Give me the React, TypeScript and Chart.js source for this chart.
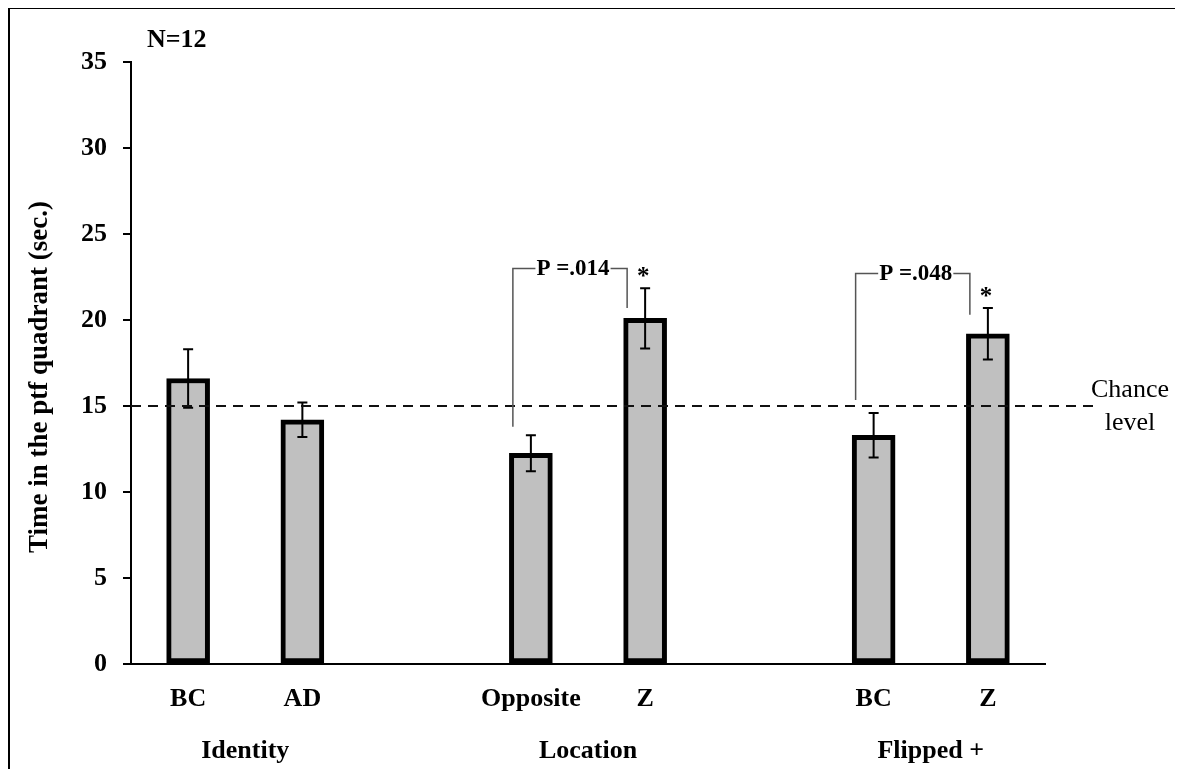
import React, { useEffect, useRef } from 'react';
import { Chart, registerables } from 'chart.js';

Chart.register(...registerables);

// ---- data ----
const categories = ['BC', 'AD', '', 'Opposite', 'Z', '', 'BC', 'Z'];
const meanTime = [16.6, 14.2, null, 12.25, 20.1, null, 13.3, 19.2];
const stdError = [1.7, 1.0, null, 1.05, 1.75, null, 1.3, 1.5];
const groupLabels = ['Identity', 'Location', 'Flipped +'];
const groupMembers = [[0, 1], [3, 4], [6, 7]];
const yMin = 0;
const yMax = 35;
const yStep = 5;
const chanceLevel = 15;
const chanceLabel = ['Chance', 'level'];
const sampleLabel = 'N=12';
const yTitle = 'Time in the ptf quadrant (sec.)';
const comparisonLabels = ['P =.014', 'P =.048'];
const comparisonPairs = [[3, 4], [6, 7]];
const comparisonTop = [23.0, 22.7];
const comparisonLeftEnd = [13.8, 15.35];
const comparisonRightEnd = [20.7, 20.3];
const significantBars = [4, 7];

const SERIF = '"Liberation Serif", "Times New Roman", serif';

const annotPlugin = {
  id: 'annot',
  afterDatasetsDraw(chart: any) {
    const { ctx, chartArea } = chart;
    const x = chart.scales.x;
    const y = chart.scales.y;
    ctx.save();

    // error bars
    ctx.strokeStyle = '#000';
    ctx.lineWidth = 2;
    meanTime.forEach((m, i) => {
      if (m == null) return;
      const e = stdError[i] as number;
      const px = x.getPixelForValue(i);
      const top = y.getPixelForValue(m + e);
      const bot = y.getPixelForValue(m - e);
      ctx.beginPath();
      ctx.moveTo(px, top);
      ctx.lineTo(px, bot);
      ctx.moveTo(px - 5, top);
      ctx.lineTo(px + 5, top);
      ctx.moveTo(px - 5, bot);
      ctx.lineTo(px + 5, bot);
      ctx.stroke();
    });

    // chance line
    const cy = y.getPixelForValue(chanceLevel);
    ctx.setLineDash([10, 7]);
    ctx.lineWidth = 2;
    ctx.strokeStyle = '#111';
    ctx.beginPath();
    ctx.moveTo(chartArea.left, cy);
    ctx.lineTo(chartArea.right + 48, cy);
    ctx.stroke();
    ctx.setLineDash([]);

    ctx.fillStyle = '#000';
    ctx.font = `26px ${SERIF}`;
    ctx.textAlign = 'center';
    ctx.textBaseline = 'middle';
    ctx.fillText(chanceLabel[0], chartArea.right + 85, cy - 16);
    ctx.fillText(chanceLabel[1], chartArea.right + 85, cy + 17);

    // comparison brackets
    ctx.font = `bold 23px ${SERIF}`;
    comparisonPairs.forEach((pair, k) => {
      const lx = x.getPixelForValue(pair[0]) - 18;
      const rx = x.getPixelForValue(pair[1]) - 18;
      const ty = y.getPixelForValue(comparisonTop[k]);
      const ly = y.getPixelForValue(comparisonLeftEnd[k]);
      const ry = y.getPixelForValue(comparisonRightEnd[k]);
      const mid = (lx + rx) / 2 + 3;
      const w = ctx.measureText(comparisonLabels[k]).width;
      ctx.strokeStyle = '#555';
      ctx.lineWidth = 1.5;
      ctx.beginPath();
      ctx.moveTo(lx, ly);
      ctx.lineTo(lx, ty);
      ctx.lineTo(mid - w / 2 - 1, ty);
      ctx.moveTo(mid + w / 2 + 1, ty);
      ctx.lineTo(rx, ty);
      ctx.lineTo(rx, ry);
      ctx.stroke();
      ctx.fillStyle = '#000';
      ctx.fillText(comparisonLabels[k], mid, ty + 1);
    });

    // significance stars
    ctx.font = `bold 25px ${SERIF}`;
    ctx.textBaseline = 'alphabetic';
    significantBars.forEach((i) => {
      const m = meanTime[i] as number;
      const e = stdError[i] as number;
      const px = x.getPixelForValue(i);
      ctx.fillText('*', px - 2, y.getPixelForValue(m + e) - 4);
    });

    // group labels
    ctx.font = `bold 26px ${SERIF}`;
    ctx.textBaseline = 'middle';
    groupMembers.forEach((g, k) => {
      const px = (x.getPixelForValue(g[0]) + x.getPixelForValue(g[1])) / 2;
      ctx.fillText(groupLabels[k], px, 743);
    });

    // sample size
    ctx.textAlign = 'left';
    ctx.textBaseline = 'alphabetic';
    ctx.fillText(sampleLabel, 139, 39);

    // y title
    ctx.save();
    ctx.font = `bold 27px ${SERIF}`;
    ctx.translate(32, (chartArea.top + chartArea.bottom) / 2 + 14);
    ctx.rotate(-Math.PI / 2);
    ctx.textAlign = 'center';
    ctx.textBaseline = 'middle';
    ctx.fillText(yTitle, 0, 0);
    ctx.restore();

    ctx.restore();
  },
  afterDraw(chart: any) {
    const { ctx } = chart;
    ctx.save();
    ctx.strokeStyle = '#000';
    ctx.lineWidth = 2;
    ctx.beginPath();
    ctx.moveTo(1, chart.height + 5);
    ctx.lineTo(1, 0);
    ctx.lineTo(chart.width + 5, 0);
    ctx.stroke();
    ctx.restore();
  },
};

export default function App() {
  const ref = useRef<HTMLCanvasElement>(null);
  useEffect(() => {
    document.documentElement.style.overflow = 'hidden';
    document.body.style.overflow = 'hidden';
    if (!ref.current) return;
    const chart = new Chart(ref.current, {
      type: 'bar',
      data: {
        labels: categories,
        datasets: [
          {
            data: meanTime as any,
            backgroundColor: '#c0c0c0',
            borderColor: '#000',
            borderWidth: 5,
            borderSkipped: false,
            barThickness: 43,
          },
        ],
      },
      options: {
        animation: false,
        responsive: true,
        maintainAspectRatio: false,
        layout: { padding: { top: 54, right: 138, left: 0, bottom: 0 } },
        plugins: { legend: { display: false }, tooltip: { enabled: false }, title: { display: false } },
        scales: {
          x: {
            grid: { display: false },
            border: { display: true, color: '#000', width: 2 },
            ticks: {
              color: '#000',
              font: { family: SERIF, size: 26, weight: 'bold' },
              padding: 12,
              autoSkip: false,
              maxRotation: 0,
            },
            afterFit: (s: any) => {
              s.height = 105;
            },
          },
          y: {
            min: yMin,
            max: yMax,
            grid: { display: true, drawOnChartArea: false, drawTicks: true, tickLength: 8, color: '#000', lineWidth: 2 },
            border: { display: true, color: '#000', width: 2 },
            ticks: {
              stepSize: yStep,
              color: '#000',
              font: { family: SERIF, size: 26, weight: 'bold' },
              padding: 16,
            },
            afterFit: (s: any) => {
              s.width = 123;
            },
          },
        },
      } as any,
      plugins: [annotPlugin],
    });
    return () => chart.destroy();
  }, []);
  return (
    <div style={{ position: 'relative', width: 1175, height: 761 }}>
      <canvas ref={ref} />
    </div>
  );
}
